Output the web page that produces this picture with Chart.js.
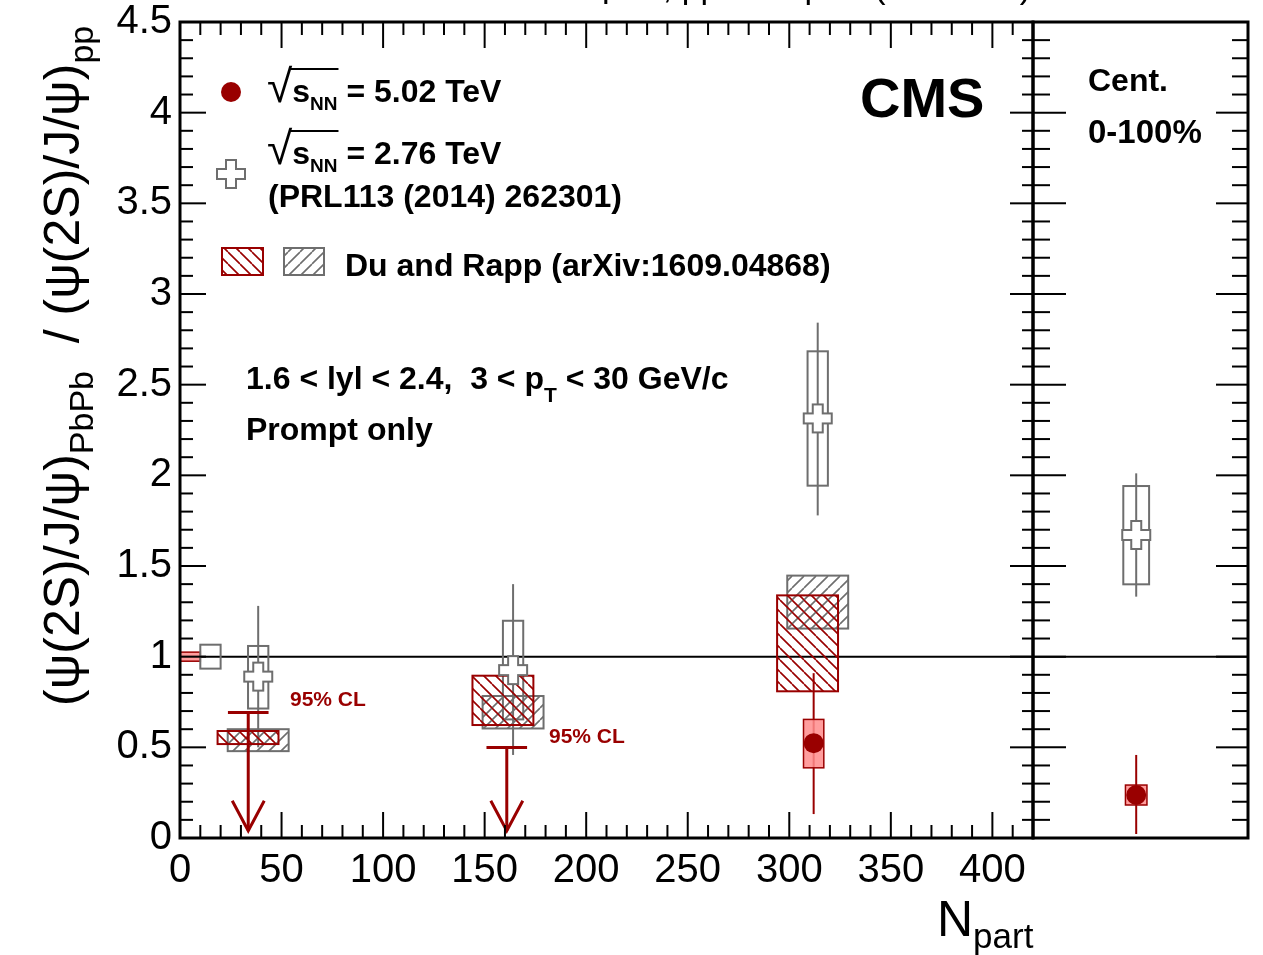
<!DOCTYPE html>
<html>
<head>
<meta charset="utf-8">
<script src="https://cdn.jsdelivr.net/npm/chart.js@4.4.0/dist/chart.umd.min.js"></script>
<style>
html, body { margin: 0; padding: 0; background: #fff; }
#wrap { position: relative; width: 1263px; height: 955px; }
#wrap canvas { position: absolute; left: 0; top: 0; }
</style>
</head>
<body>
<div id="wrap">
  <canvas id="mainChart" width="1263" height="955"></canvas>
  <canvas id="sideChart" width="1263" height="955"></canvas>
</div>
<script>
// ===========================
// Data
// ===========================
// sqrt(sNN) = 5.02 TeV, prompt psi(2S)/J/psi double ratio vs Npart
const npart502 = [312];
const ratio502 = [0.523];
const stat502Lo = [0.132];
const stat502Hi = [0.909];
const syst502Lo = [0.387];
const syst502Hi = [0.654];

// 5.02 TeV 95% CL upper limits
const limitNpart = [33.6, 160.9];
const limitValue = [0.692, 0.499];

// sqrt(sNN) = 2.76 TeV (PRL113 (2014) 262301)
const npart276 = [38.5, 164, 314];
const ratio276 = [0.89, 0.926, 2.314];
const stat276Lo = [0.50, 0.458, 1.779];
const stat276Hi = [1.28, 1.40, 2.842];
const syst276Lo = [0.714, 0.654, 1.943];
const syst276Hi = [1.059, 1.198, 2.684];

// Du and Rapp model bands
const model502Npart = [33.5, 159, 309];
const model502Lo = [0.518, 0.623, 0.809];
const model502Hi = [0.590, 0.895, 1.338];
const model276Npart = [38.5, 164, 314];
const model276Lo = [0.479, 0.604, 1.155];
const model276Hi = [0.600, 0.783, 1.447];

// global (pp) uncertainties drawn at unity
const globalBins = [[0, 10], [10, 20]];
const globalHalf = [0.025, 0.066];

// Cent. 0-100% (integrated) panel
const intPos = [0.48];
const int502 = [0.237];
const int502StatLo = [0.022];
const int502StatHi = [0.458];
const int502SystLo = [0.182];
const int502SystHi = [0.292];
const int276 = [1.671];
const int276StatLo = [1.331];
const int276StatHi = [2.011];
const int276SystLo = [1.399];
const int276SystHi = [1.941];

const xTicks = [0, 50, 100, 150, 200, 250, 300, 350, 400];

// ===========================
// Styles
// ===========================
const RED = '#990000';
const RED_FILL = 'rgba(255,140,140,0.85)';
const GRAY = '#6e6e6e';
const FONT = '"Liberation Sans", Arial, Helvetica, sans-serif';
const ARROW_TIP = 0.04;
const TXT = 32;

function openCross(size, arm) {
    const c = document.createElement('canvas');
    c.width = c.height = size + 4;
    const g = c.getContext('2d');
    const m = (size + 4) / 2, h = size / 2, a = arm / 2;
    g.beginPath();
    g.moveTo(m - a, m - h); g.lineTo(m + a, m - h); g.lineTo(m + a, m - a); g.lineTo(m + h, m - a);
    g.lineTo(m + h, m + a); g.lineTo(m + a, m + a); g.lineTo(m + a, m + h); g.lineTo(m - a, m + h);
    g.lineTo(m - a, m + a); g.lineTo(m - h, m + a); g.lineTo(m - h, m - a); g.lineTo(m - a, m - a);
    g.closePath();
    g.fillStyle = '#fff';
    g.fill();
    g.strokeStyle = GRAY;
    g.lineWidth = 2;
    g.stroke();
    return c;
}
const crossImg = openCross(28, 10);

function hatchPattern(ctx, color, dir) {
    const s = 12;
    const c = document.createElement('canvas');
    c.width = s; c.height = s;
    const g = c.getContext('2d');
    g.strokeStyle = color;
    g.lineWidth = 1.6;
    g.beginPath();
    for (const k of [-s, 0, s]) {
        if (dir === '\\') { g.moveTo(k, 0); g.lineTo(k + s, s); }
        else { g.moveTo(k, s); g.lineTo(k + s, 0); }
    }
    g.stroke();
    return ctx.createPattern(c, 'repeat');
}

// ===========================
// Drawing helpers
// ===========================
function rectPx(ctx, x0, y0, x1, y1, fill, stroke, lw) {
    const l = Math.min(x0, x1), t = Math.min(y0, y1);
    const w = Math.abs(x1 - x0), h = Math.abs(y1 - y0);
    if (fill) { ctx.fillStyle = fill; ctx.fillRect(l, t, w, h); }
    if (stroke) { ctx.strokeStyle = stroke; ctx.lineWidth = lw || 2; ctx.strokeRect(l, t, w, h); }
}

function dataBox(ctx, sx, sy, xa, xb, ya, yb, fill, stroke, lw) {
    rectPx(ctx, sx.getPixelForValue(xa), sy.getPixelForValue(ya),
        sx.getPixelForValue(xb), sy.getPixelForValue(yb), fill, stroke, lw);
}

function vLine(ctx, sx, sy, xv, ya, yb, color, lw) {
    const px = sx.getPixelForValue(xv);
    ctx.strokeStyle = color;
    ctx.lineWidth = lw;
    ctx.beginPath();
    ctx.moveTo(px, sy.getPixelForValue(ya));
    ctx.lineTo(px, sy.getPixelForValue(yb));
    ctx.stroke();
}

function line(ctx, x0, y0, x1, y1) {
    ctx.beginPath();
    ctx.moveTo(x0, y0);
    ctx.lineTo(x1, y1);
    ctx.stroke();
}

// draw a list of text pieces: {t, size, bold, dy}
function richText(ctx, parts, x, y, color) {
    ctx.fillStyle = color || '#000';
    ctx.textBaseline = 'alphabetic';
    ctx.textAlign = 'left';
    let cx = x;
    const pos = [];
    for (const p of parts) {
        ctx.font = (p.bold ? 'bold ' : '') + p.size + 'px ' + FONT;
        ctx.fillText(p.t, cx, y + (p.dy || 0));
        const w = ctx.measureText(p.t).width;
        pos.push([cx, cx + w]);
        cx += w;
    }
    return pos;
}

function sqrtLabel(ctx, x, y, value) {
    const pos = richText(ctx, [
        { t: '\u221A', size: 46, bold: false },
        { t: 's', size: TXT, bold: true },
        { t: 'NN', size: 19, bold: true, dy: 8 },
        { t: ' = ' + value + ' TeV', size: TXT, bold: true }
    ], x, y);
    ctx.strokeStyle = '#000';
    ctx.lineWidth = 2;
    line(ctx, pos[0][1] - 2, y - 33, pos[2][1] + 1, y - 33);
}

function yTickMarks(ctx, sy, xEdge, dir, major, minor) {
    ctx.strokeStyle = '#000';
    ctx.lineWidth = 2;
    for (let i = 0; i <= 45; i++) {
        const py = sy.getPixelForValue(i / 10);
        line(ctx, xEdge, py, xEdge + dir * (i % 5 === 0 ? major : minor), py);
    }
}

// ===========================
// Main panel plugin
// ===========================
const mainDecor = {
    id: 'mainDecor',
    beforeDatasetsDraw(chart) {
        const { ctx, chartArea: a, scales: { x, y } } = chart;
        ctx.save();
        // unity line
        ctx.strokeStyle = '#000';
        ctx.lineWidth = 2;
        const p1 = y.getPixelForValue(1);
        line(ctx, a.left, p1, a.right, p1);

        // global uncertainties at 1
        dataBox(ctx, x, y, globalBins[0][0], globalBins[0][1], 1 - globalHalf[0], 1 + globalHalf[0], RED_FILL, RED, 1.5);
        dataBox(ctx, x, y, globalBins[1][0], globalBins[1][1], 1 - globalHalf[1], 1 + globalHalf[1], null, GRAY, 2);

        // 2.76 TeV stat + syst
        npart276.forEach((n, i) => {
            vLine(ctx, x, y, n, stat276Lo[i], stat276Hi[i], GRAY, 2);
            dataBox(ctx, x, y, n - 5, n + 5, syst276Lo[i], syst276Hi[i], null, GRAY, 2);
        });

        // 5.02 TeV stat + syst
        npart502.forEach((n, i) => {
            vLine(ctx, x, y, n, stat502Lo[i], stat502Hi[i], RED, 2);
            dataBox(ctx, x, y, n - 5, n + 5, syst502Lo[i], syst502Hi[i], RED_FILL, RED, 1.5);
        });

        // Du and Rapp bands
        const grayHatch = hatchPattern(ctx, GRAY, '/');
        const redHatch = hatchPattern(ctx, RED, '\\');
        model276Npart.forEach((n, i) => {
            dataBox(ctx, x, y, n - 15, n + 15, model276Lo[i], model276Hi[i], grayHatch, GRAY, 2);
        });
        model502Npart.forEach((n, i) => {
            dataBox(ctx, x, y, n - 15, n + 15, model502Lo[i], model502Hi[i], redHatch, RED, 2);
        });

        // upper limits
        ctx.strokeStyle = RED;
        ctx.lineWidth = 3;
        limitNpart.forEach((n, i) => {
            const px = x.getPixelForValue(n);
            const top = y.getPixelForValue(limitValue[i]);
            const tip = y.getPixelForValue(ARROW_TIP);
            line(ctx, x.getPixelForValue(n - 10), top, x.getPixelForValue(n + 10), top);
            line(ctx, px, top, px, tip);
            ctx.beginPath();
            ctx.moveTo(px - 16, tip - 30);
            ctx.lineTo(px, tip);
            ctx.lineTo(px + 16, tip - 30);
            ctx.stroke();
        });
        ctx.restore();
    },
    afterDraw(chart) {
        const { ctx, chartArea: a, scales: { x, y } } = chart;
        ctx.save();
        // ticks inside the frame
        ctx.strokeStyle = '#000';
        ctx.lineWidth = 2;
        for (let v = 0; v <= 420; v += 10) {
            const px = x.getPixelForValue(v);
            const len = v % 50 === 0 ? 26 : 13;
            line(ctx, px, a.bottom, px, a.bottom - len);
            line(ctx, px, a.top, px, a.top + len);
        }
        yTickMarks(ctx, y, a.left, 1, 26, 13);
        yTickMarks(ctx, y, a.right, -1, 23, 11);
        ctx.lineWidth = 3;
        ctx.strokeRect(a.left, a.top, a.right - a.left, a.bottom - a.top);

        // cut-off header
        ctx.font = '34px ' + FONT;
        ctx.fillStyle = '#000';
        ctx.textAlign = 'right';
        ctx.textBaseline = 'alphabetic';
        ctx.fillText('PbPb 368 \u03BCb\u207B\u00B9, pp 28.0 pb\u207B\u00B9 (5.02 TeV)', a.right - 2, -2);

        // CMS
        ctx.font = 'bold 56px ' + FONT;
        ctx.textAlign = 'left';
        ctx.fillText('CMS', 860, 117);

        // legend
        ctx.fillStyle = RED;
        ctx.beginPath();
        ctx.arc(231, 92, 10, 0, Math.PI * 2);
        ctx.fill();
        sqrtLabel(ctx, 267, 102, '5.02');
        ctx.drawImage(crossImg, 231 - crossImg.width / 2, 174 - crossImg.height / 2);
        sqrtLabel(ctx, 267, 164, '2.76');
        richText(ctx, [{ t: '(PRL113 (2014) 262301)', size: TXT, bold: true }], 268, 207);
        rectPx(ctx, 222, 248, 263, 275, hatchPattern(ctx, RED, '\\'), RED, 2);
        rectPx(ctx, 284, 248, 324, 275, hatchPattern(ctx, GRAY, '/'), GRAY, 2);
        richText(ctx, [{ t: 'Du and Rapp (arXiv:1609.04868)', size: TXT, bold: true }], 345, 276);

        // kinematic selection
        richText(ctx, [
            { t: '1.6 < lyl < 2.4,  3 < p', size: TXT, bold: true },
            { t: 'T', size: 21, bold: true, dy: 13 },
            { t: ' < 30 GeV/c', size: TXT, bold: true }
        ], 246, 389);
        richText(ctx, [{ t: 'Prompt only', size: TXT, bold: true }], 246, 440);

        // 95% CL labels
        richText(ctx, [{ t: '95% CL', size: 21, bold: true }], 290, 706, RED);
        richText(ctx, [{ t: '95% CL', size: 21, bold: true }], 549, 743, RED);

        // x title
        richText(ctx, [
            { t: 'N', size: 50 },
            { t: 'part', size: 35, dy: 12 }
        ], 937, 936);

        // y title (rotated)
        ctx.translate(79, 706);
        ctx.rotate(-Math.PI / 2);
        richText(ctx, [
            { t: '(\u03C8(2S)/J/\u03C8)', size: 50 },
            { t: 'PbPb', size: 34, dy: 14 },
            { t: '  / (\u03C8(2S)/J/\u03C8)', size: 50 },
            { t: 'pp', size: 34, dy: 14 }
        ], 0, 0);
        ctx.restore();
    }
};

// ===========================
// Side (0-100%) panel plugin
// ===========================
const sideDecor = {
    id: 'sideDecor',
    beforeDatasetsDraw(chart) {
        const { ctx, chartArea: a, scales: { x, y } } = chart;
        ctx.save();
        ctx.strokeStyle = '#000';
        ctx.lineWidth = 2;
        const p1 = y.getPixelForValue(1);
        line(ctx, a.left, p1, a.right, p1);
        intPos.forEach((c, i) => {
            vLine(ctx, x, y, c, int276StatLo[i], int276StatHi[i], GRAY, 2);
            dataBox(ctx, x, y, c - 0.06, c + 0.06, int276SystLo[i], int276SystHi[i], null, GRAY, 2);
            vLine(ctx, x, y, c, int502StatLo[i], int502StatHi[i], RED, 2);
            dataBox(ctx, x, y, c - 0.05, c + 0.05, int502SystLo[i], int502SystHi[i], RED_FILL, RED, 1.5);
        });
        ctx.restore();
    },
    afterDraw(chart) {
        const { ctx, chartArea: a, scales: { y } } = chart;
        ctx.save();
        yTickMarks(ctx, y, a.left, 1, 33, 17);
        yTickMarks(ctx, y, a.right, -1, 32, 16);
        ctx.strokeStyle = '#000';
        ctx.lineWidth = 3;
        ctx.strokeRect(a.left, a.top, a.right - a.left, a.bottom - a.top);
        richText(ctx, [{ t: 'Cent.', size: TXT, bold: true }], 1088, 91);
        richText(ctx, [{ t: '0-100%', size: 33, bold: true }], 1088, 143);
        ctx.restore();
    }
};

// ===========================
// Charts
// ===========================
const tickFont = { family: FONT, size: 40 };

new Chart(document.getElementById('mainChart'), {
    type: 'scatter',
    data: {
        datasets: [
            {
                label: '2.76 TeV',
                data: npart276.map((n, i) => ({ x: n, y: ratio276[i] })),
                pointStyle: crossImg
            },
            {
                label: '5.02 TeV',
                data: npart502.map((n, i) => ({ x: n, y: ratio502[i] })),
                pointStyle: 'circle',
                pointRadius: 10,
                backgroundColor: RED,
                borderColor: RED,
                borderWidth: 0
            }
        ]
    },
    options: {
        responsive: false,
        animation: false,
        layout: { padding: { top: 22, right: 230, left: 0, bottom: 0 } },
        plugins: { legend: { display: false }, tooltip: { enabled: false } },
        scales: {
            x: {
                type: 'linear', min: 0, max: 420,
                afterFit: s => { s.height = 117; s.paddingLeft = 0; s.paddingRight = 0; },
                afterBuildTicks: s => { s.ticks = xTicks.map(v => ({ value: v })); },
                grid: { display: false, drawTicks: false },
                border: { display: false },
                ticks: { font: tickFont, color: '#000', padding: 9, maxRotation: 0, autoSkip: false }
            },
            y: {
                min: 0, max: 4.5,
                afterFit: s => { s.width = 180; s.paddingTop = 0; s.paddingBottom = 0; },
                grid: { display: false, drawTicks: false },
                border: { display: false },
                ticks: { stepSize: 0.5, font: tickFont, color: '#000', padding: 8, callback: v => String(v) }
            }
        }
    },
    plugins: [mainDecor]
});

new Chart(document.getElementById('sideChart'), {
    type: 'scatter',
    data: {
        datasets: [
            {
                label: '2.76 TeV',
                data: intPos.map((c, i) => ({ x: c, y: int276[i] })),
                pointStyle: crossImg
            },
            {
                label: '5.02 TeV',
                data: intPos.map((c, i) => ({ x: c, y: int502[i] })),
                pointStyle: 'circle',
                pointRadius: 10,
                backgroundColor: RED,
                borderColor: RED,
                borderWidth: 0
            }
        ]
    },
    options: {
        responsive: false,
        animation: false,
        layout: { padding: { top: 22, right: 15, left: 1033, bottom: 117 } },
        plugins: { legend: { display: false }, tooltip: { enabled: false } },
        scales: {
            x: { type: 'linear', min: 0, max: 1, display: false },
            y: { min: 0, max: 4.5, display: false }
        }
    },
    plugins: [sideDecor]
});
</script>
</body>
</html>
